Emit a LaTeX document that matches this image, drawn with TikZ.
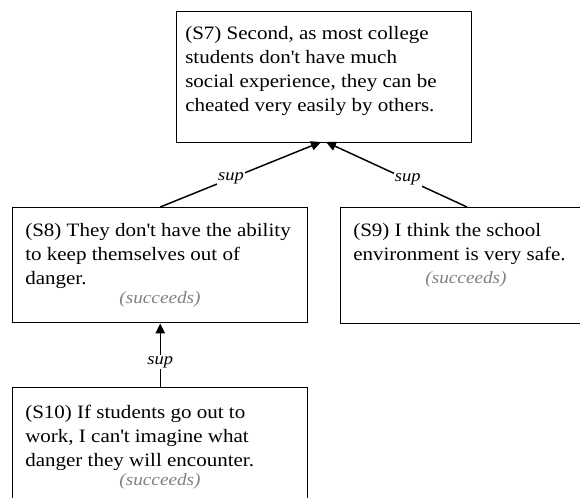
\documentclass[tikz,border=0pt]{standalone}
\usepackage{fontspec}
\setmainfont{Liberation Serif}[FakeStretch=1.11]
\usetikzlibrary{arrows.meta}
\newcommand{\ap}{\textquotesingle}
\begin{document}
\begin{tikzpicture}[x=0.75pt,y=-0.75pt,
  box/.style={draw, line width=1.1pt, inner sep=0, anchor=north west},
  body/.style={anchor=north west, inner sep=0, align=left,
    font=\fontsize{14.2}{18}\selectfont},
  verdict/.style={anchor=base, inner sep=0, text=black!50,
    font=\fontsize{13}{18}\selectfont\itshape},
  rel/.style={line width=1.1pt, -{Triangle[length=7.5pt,width=7pt]}},
  lbl/.style={fill=white, inner sep=1pt,
    font=\fontsize{12.5}{18}\selectfont\itshape}
]
\clip (0,0) rectangle (580,497);

% statement boxes
\node[box, minimum width=221.25pt, minimum height=98.25pt] (s7) at (176,11) {};
\node[box, minimum width=221.25pt, minimum height=86.25pt] (s8) at (12,207) {};
\node[box, minimum width=221.25pt, minimum height=87pt] (s9) at (340,207) {};
\node[box, minimum width=221.25pt, minimum height=105pt] (s10) at (12,387) {};

% statement texts
\node[body] (s7t) at (185,26) {(S7) Second, as most college\\students don\ap t have much\\social experience, they can be\\cheated very easily by others.};
\node[body] (s8t) at (25,223) {(S8) They don\ap t have the ability\\to keep themselves out of\\danger.};
\node[verdict] (s8v) at (160,303) {(succeeds)};
\node[body] (s9t) at (353,223) {(S9) I think the school\\environment is very safe.};
\node[verdict] (s9v) at (466,283) {(succeeds)};
\node[body] (s10t) at (25,405) {(S10) If students go out to\\work, I can\ap t imagine what\\danger they will encounter.};
\node[verdict] (s10v) at (160,485) {(succeeds)};

% support relations
\coordinate (t8) at (321,142);
\coordinate (t9) at (326,142);
\coordinate (f9) at (467,207);
\draw[rel] (s8.north) -- node[lbl, pos=.44] (l8) {sup} (t8);
\draw[rel] (f9) -- node[lbl, pos=.42] (l9) {sup} (t9);
\draw[rel] (s10.north) -- node[lbl, pos=.39] (l10) {sup} (s8.south);
\end{tikzpicture}
\end{document}
